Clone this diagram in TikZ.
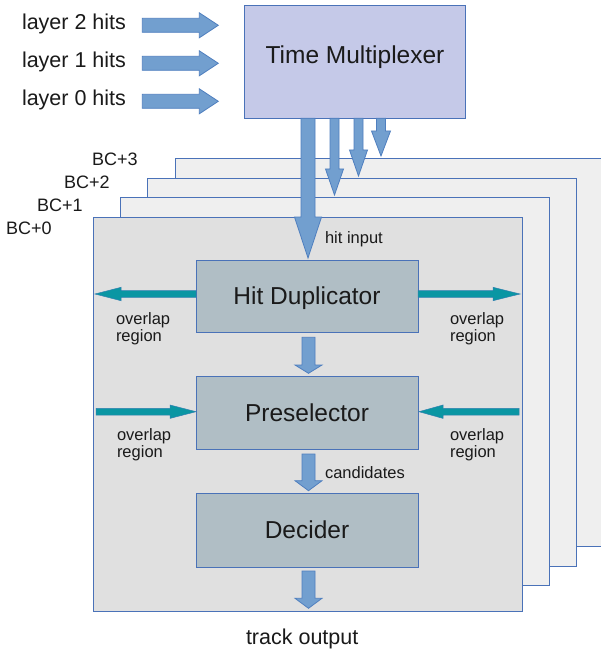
\documentclass[tikz,border=0pt]{standalone}
\usepackage{fontspec}
\setmainfont{Liberation Sans}
\definecolor{tmfill}{HTML}{C5C9E8}
\definecolor{edgeblue}{HTML}{4A72B8}
\definecolor{arrfill}{HTML}{729FCF}
\definecolor{arredge}{HTML}{4F7FBF}
\definecolor{boxfill}{HTML}{B0BEC5}
\definecolor{backfill}{HTML}{EFEFEF}
\definecolor{frontfill}{HTML}{E0E0E0}
\definecolor{tealarr}{HTML}{0A96A3}
\definecolor{txt}{HTML}{1A1A1A}
% horizontal block arrow: style, y, x start, x head start, x tip, shaft half, head half
\newcommand\hblk[7]{\draw[#1] (#3,#2-#6) -- (#4,#2-#6) -- (#4,#2-#7) -- (#5,#2) -- (#4,#2+#7) -- (#4,#2+#6) -- (#3,#2+#6) -- cycle;}
% vertical block arrow: style, x, y start, y head start, y tip, shaft half, head half
\newcommand\vblk[7]{\draw[#1] (#2-#6,#3) -- (#2-#6,#4) -- (#2-#7,#4) -- (#2,#5) -- (#2+#7,#4) -- (#2+#6,#4) -- (#2+#6,#3) -- cycle;}
\begin{document}
\begin{tikzpicture}[x=1pt,y=-1pt,
  every node/.style={text=txt, inner sep=0pt, outer sep=0pt},
  bigtxt/.style={font=\fontsize{21.5}{24}\selectfont},
  boxtxt/.style={font=\fontsize{24.5}{28}\selectfont},
  bctxt/.style={font=\fontsize{18}{20}\selectfont},
  smalltxt/.style={font=\fontsize{16.5}{17}\selectfont},
  frameback/.style={draw=edgeblue, line width=0.8pt, fill=backfill, anchor=north west, minimum width=429pt, minimum height=388pt},
  framefront/.style={draw=edgeblue, line width=0.8pt, fill=frontfill, anchor=north west, minimum width=429pt, minimum height=394pt},
  tmbox/.style={draw=edgeblue, line width=1pt, fill=tmfill, boxtxt, minimum width=221pt, minimum height=113pt, text height=17.5pt, text depth=14.5pt},
  stagebox/.style={draw=edgeblue, line width=1pt, fill=boxfill, boxtxt, minimum width=222pt, text height=17.5pt, text depth=0pt},
  bluearr/.style={draw=arredge, line width=0.8pt, fill=arrfill},
  tealblk/.style={draw=edgeblue!60!tealarr, line width=0.5pt, fill=tealarr},
  olap/.style={smalltxt, align=left, anchor=north west}
]
\useasboundingbox (0,0) rectangle (601,655);
\fill[white] (0,0) rectangle (601,655);

% frames (back to front)
\node[frameback] (f3) at (175.7,158.3) {};
\node[frameback] (f2) at (147.7,178.3) {};
\node[frameback] (f1) at (120.7,197.3) {};
\node[framefront] (f0) at (93,217.3) {};

% BC labels
\node[bctxt, anchor=base west] (bc3) at (92,165) {BC+3};
\node[bctxt, anchor=base west] (bc2) at (64,188.7) {BC+2};
\node[bctxt, anchor=base west] (bc1) at (37,211.7) {BC+1};
\node[bctxt, anchor=base west] (bc0) at (6,234.3) {BC+0};

% time multiplexer
\node[tmbox] (tm) at (355,61.8) {Time Multiplexer};

% input labels and arrows
\node[bigtxt, anchor=base west] (l2) at (22,30) {layer 2 hits};
\node[bigtxt, anchor=base west] (l1) at (22,68) {layer 1 hits};
\node[bigtxt, anchor=base west] (l0) at (22,106) {layer 0 hits};
\hblk{bluearr}{25.3}{142.3}{199.3}{218.3}{7}{12.5}
\hblk{bluearr}{63.3}{142.3}{199.3}{218.3}{7}{12.5}
\hblk{bluearr}{101.3}{142.3}{199.3}{218.3}{7}{12.5}

% stage boxes
\node[stagebox, minimum height=72pt] (hd) at (307,296) {Hit Duplicator};
\node[stagebox, minimum height=73pt] (ps) at (307,412.5) {Preselector};
\node[stagebox, minimum height=74pt] (dc) at (307,530) {Decider};

% arrows from multiplexer to the BC frames
\vblk{bluearr}{308}{118.3}{217}{258}{7}{13.5}
\vblk{bluearr}{334.5}{118.3}{169}{195}{4.5}{9}
\vblk{bluearr}{358.5}{118.3}{150}{176}{4.5}{9}
\vblk{bluearr}{381}{118.3}{131}{156}{4.5}{9.5}
\node[smalltxt, anchor=base west] (hitin) at (325,243.3) {hit input};

% arrows between stages
\vblk{bluearr}{308.5}{337.3}{365}{373.3}{6.5}{13.5}
\vblk{bluearr}{308.5}{454}{480.7}{490.7}{6.5}{13.5}
\vblk{bluearr}{308.5}{571}{598.3}{608.3}{6.5}{13.5}
\node[smalltxt, anchor=base west] (cand) at (325,478.3) {candidates};
\node[bigtxt, anchor=base west] (trk) at (246,644) {track output};

% overlap arrows
\hblk{tealblk}{294}{196}{121}{95}{3.4}{6.7}
\hblk{tealblk}{294}{418}{493}{520}{3.4}{6.7}
\hblk{tealblk}{411.7}{96}{170}{196}{3.4}{6.7}
\hblk{tealblk}{411.7}{519}{443}{419}{3.4}{6.7}
\node[olap] (ol1) at (116,312.2) {overlap\\region};
\node[olap] (ol2) at (450,312.2) {overlap\\region};
\node[olap] (ol3) at (117,429) {overlap\\region};
\node[olap] (ol4) at (450,429) {overlap\\region};
\end{tikzpicture}
\end{document}
